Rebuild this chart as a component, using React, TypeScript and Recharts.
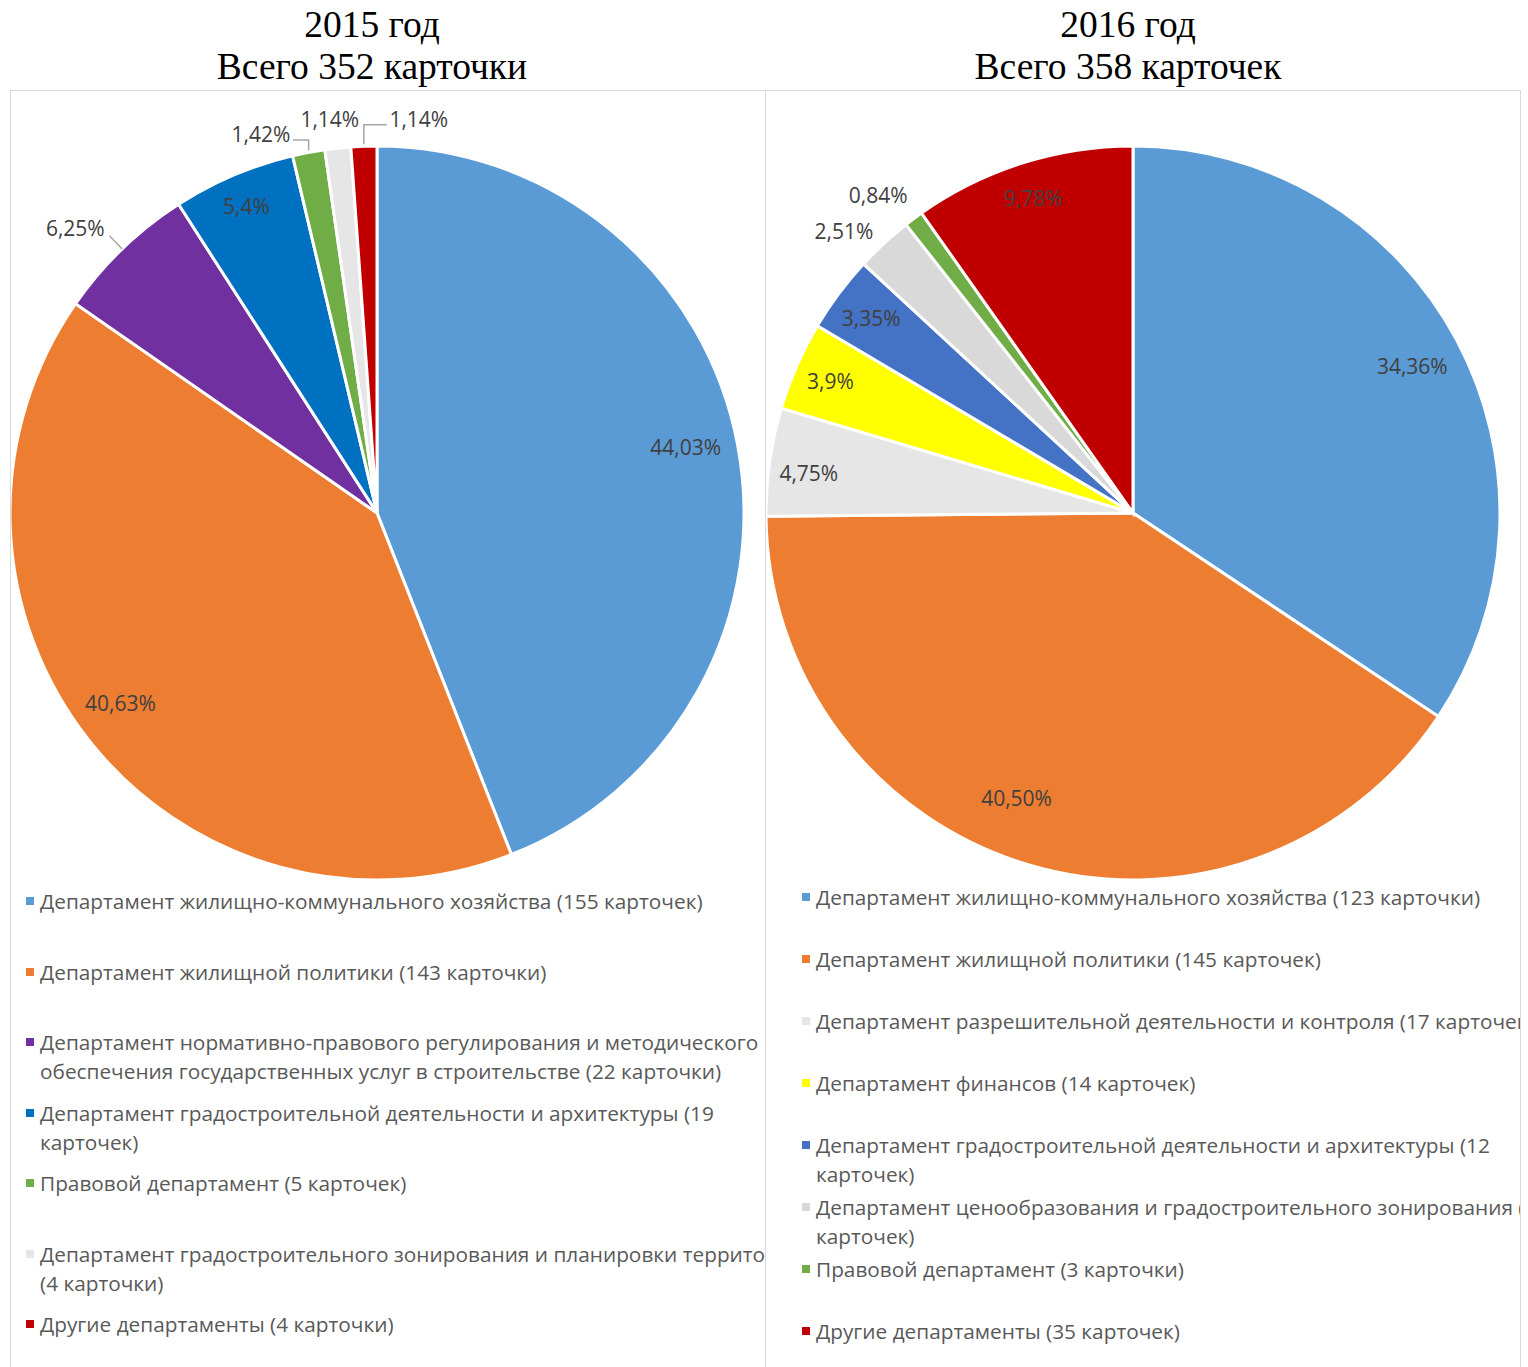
import { PieChart, Pie, Cell } from 'recharts';

// 2015
const NAMES_2015 = [
  'Департамент жилищно-коммунального хозяйства (155 карточек)',
  'Департамент жилищной политики (143 карточки)',
  'Департамент нормативно-правового регулирования и методического\nобеспечения государственных услуг в строительстве (22 карточки)',
  'Департамент градостроительной деятельности и архитектуры (19\nкарточек)',
  'Правовой департамент (5 карточек)',
  'Департамент градостроительного зонирования и планировки территории\n(4 карточки)',
  'Другие департаменты (4 карточки)',
];
const COUNTS_2015 = [155, 143, 22, 19, 5, 4, 4];
const PCT_2015 = ['44,03%', '40,63%', '6,25%', '5,4%', '1,42%', '1,14%', '1,14%'];
const COLORS_2015 = ['#5B9BD5', '#ED7D31', '#7030A0', '#0070C0', '#70AD47', '#E7E6E6', '#C00000'];

// 2016
const NAMES_2016 = [
  'Департамент жилищно-коммунального хозяйства (123 карточки)',
  'Департамент жилищной политики (145 карточек)',
  'Департамент разрешительной деятельности и контроля (17 карточек)',
  'Департамент финансов (14 карточек)',
  'Департамент градостроительной деятельности и архитектуры (12\nкарточек)',
  'Департамент ценообразования и градостроительного зонирования (9\nкарточек)',
  'Правовой департамент (3 карточки)',
  'Другие департаменты (35 карточек)',
];
const COUNTS_2016 = [123, 145, 17, 14, 12, 9, 3, 35];
const PCT_2016 = ['34,36%', '40,50%', '4,75%', '3,9%', '3,35%', '2,51%', '0,84%', '9,78%'];
const COLORS_2016 = ['#5B9BD5', '#ED7D31', '#E7E6E6', '#FFFF00', '#4472C4', '#D9D9D9', '#70AD47', '#C00000'];

type LabelSpec = { r: number; da?: number; line?: 'radial' | 'elbow' };

// label placement (radius factor, angle shift in degrees clockwise)
const LABELS_2015: LabelSpec[] = [
  { r: 0.86, da: -1.3 },
  { r: 0.87, da: 1.8 },
  { r: 1.13, da: -2.7, line: 'radial' },
  { r: 0.91 },
  { r: 1.08, da: -6.3, line: 'elbow' },
  { r: 1.08, da: -0.7 },
  { r: 1.08, da: 8.1, line: 'elbow' },
];
const LABELS_2016: LabelSpec[] = [
  { r: 0.86, da: 0.4 },
  { r: 0.84, da: 5.6 },
  { r: 0.89, da: -1 },
  { r: 0.9 },
  { r: 0.89 },
  { r: 1.1, da: -3 },
  { r: 1.11, da: -2 },
  { r: 0.9 },
];

const RAD = Math.PI / 180;
const LABEL_FONT = '"Open Sans", sans-serif';

function makeLabel(texts: string[], specs: LabelSpec[]) {
  return (p: any) => {
    const { cx, cy, midAngle, outerRadius, index } = p;
    const s = specs[index];
    const m = 90 - midAngle;
    const a = m + (s.da ?? 0);
    const x = cx + outerRadius * s.r * Math.sin(a * RAD);
    const y = cy - outerRadius * s.r * Math.cos(a * RAD);
    const ex = cx + outerRadius * Math.sin(m * RAD);
    const ey = cy - outerRadius * Math.cos(m * RAD);
    let line = null;
    if (s.line === 'radial') {
      const x2 = cx + outerRadius * 1.05 * Math.sin(m * RAD);
      const y2 = cy - outerRadius * 1.05 * Math.cos(m * RAD);
      line = <line x1={ex} y1={ey} x2={x2} y2={y2} stroke="#A6A6A6" strokeWidth={1.5} />;
    } else if (s.line === 'elbow') {
      const half = texts[index].length * 6;
      const hy = y + 6;
      const hx = x < ex ? x + half + 2 : x - half - 2;
      line = (
        <polyline
          points={`${ex},${ey - 2} ${ex},${hy} ${hx},${hy}`}
          fill="none"
          stroke="#A6A6A6"
          strokeWidth={1.5}
        />
      );
    }
    return (
      <g key={`lbl-${index}`}>
        {line}
        <text
          x={x}
          y={y}
          textAnchor="middle"
          dominantBaseline="central"
          fill="#404040"
          fontSize={21}
          fontFamily={LABEL_FONT}
        >
          {texts[index]}
        </text>
      </g>
    );
  };
}

interface PanelProps {
  left: number;
  width: number;
  title: string[];
  titleCenter: number;
  names: string[];
  counts: number[];
  pcts: string[];
  colors: string[];
  specs: LabelSpec[];
  cx: number;
  legendTop: number;
  legendLeft: number;
  slot: number;
}

function Panel(props: PanelProps) {
  const data = props.names.map((name, i) => ({ name, value: props.counts[i] }));
  return (
    <>
      <div
        style={{
          position: 'absolute',
          left: props.titleCenter - 300,
          top: 4,
          width: 600,
          textAlign: 'center',
          fontFamily: '"Liberation Serif", "Times New Roman", serif',
          fontSize: 37.5,
          lineHeight: '42px',
          color: '#000',
        }}
      >
        {props.title.map((t) => (
          <div key={t}>{t}</div>
        ))}
      </div>
      <div
        style={{
          position: 'absolute',
          left: props.left,
          top: 90,
          width: props.width,
          height: 1300,
          border: '1px solid #D9D9D9',
          boxSizing: 'border-box',
          overflow: 'hidden',
          background: '#fff',
        }}
      >
        <PieChart width={props.width - 2} height={800} margin={{ top: 0, right: 0, bottom: 0, left: 0 }}>
          <Pie
            data={data}
            dataKey="value"
            nameKey="name"
            cx={props.cx}
            cy={422}
            outerRadius={367}
            startAngle={90}
            endAngle={-270}
            stroke="#fff"
            strokeWidth={3}
            labelLine={false}
            label={makeLabel(props.pcts, props.specs)}
            isAnimationActive={false}
          >
            {data.map((_, i) => (
              <Cell key={i} fill={props.colors[i]} />
            ))}
          </Pie>
        </PieChart>
        <div style={{ position: 'absolute', top: props.legendTop, left: props.legendLeft }}>
          {props.names.map((n, i) => (
            <div key={i} style={{ height: props.slot, position: 'relative' }}>
              <div
                style={{
                  position: 'absolute',
                  left: 0,
                  top: 10,
                  width: 8,
                  height: 8,
                  background: props.colors[i],
                }}
              />
              <div
                style={{
                  position: 'absolute',
                  left: 14,
                  top: 0,
                  whiteSpace: 'pre',
                  fontFamily: LABEL_FONT,
                  fontSize: 20.8,
                  lineHeight: '29px',
                  color: '#595959',
                }}
              >
                {n}
              </div>
            </div>
          ))}
        </div>
      </div>
    </>
  );
}

export default function App() {
  return (
    <div style={{ position: 'absolute', left: 0, top: 0, width: 1528, height: 1367, overflow: 'hidden', background: '#fff' }}>
      <Panel
        left={10}
        width={756}
        title={['2015 год', 'Всего 352 карточки']}
        titleCenter={372}
        names={NAMES_2015}
        counts={COUNTS_2015}
        pcts={PCT_2015}
        colors={COLORS_2015}
        specs={LABELS_2015}
        cx={366}
        legendTop={796}
        legendLeft={15}
        slot={70.5}
      />
      <Panel
        left={765}
        width={756}
        title={['2016 год', 'Всего 358 карточек']}
        titleCenter={1128}
        names={NAMES_2016}
        counts={COUNTS_2016}
        pcts={PCT_2016}
        colors={COLORS_2016}
        specs={LABELS_2016}
        cx={367}
        legendTop={792}
        legendLeft={36}
        slot={62}
      />
    </div>
  );
}
